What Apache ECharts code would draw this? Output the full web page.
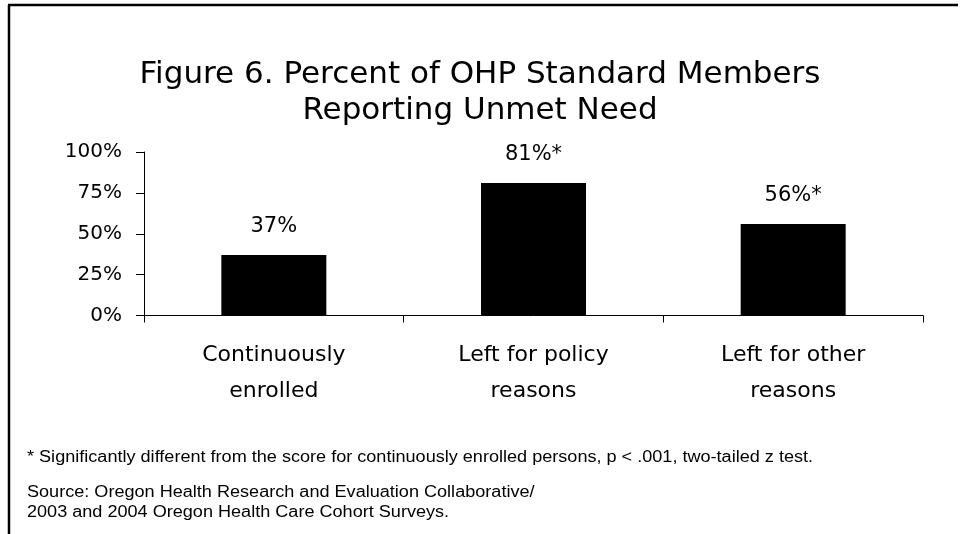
<!DOCTYPE html>
<html>
<head>
<meta charset="utf-8">
<script src="https://cdn.jsdelivr.net/npm/echarts@6/dist/echarts.min.js"></script>
<style>
html,body{margin:0;padding:0;background:#fff;}
#chart{width:960px;height:534px;}
</style>
</head>
<body>
<div id="chart"></div>
<script>
var categories = ['Continuously\nenrolled', 'Left for policy\nreasons', 'Left for other\nreasons'];
var values = [37, 81, 56];
var significance = ['', '*', '*'];
var yTicks = [0, 25, 50, 75, 100];
var titleLines = ['Figure 6. Percent of OHP Standard Members', 'Reporting Unmet Need'];
var footnote = '* Significantly different from the score for continuously enrolled persons, p < .001, two-tailed z test.';
var sourceLines = ['Source: Oregon Health Research and Evaluation Collaborative/', '2003 and 2004 Oregon Health Care Cohort Surveys.'];

var mainFont = 'DejaVu Sans';
var noteFont = '16px "Liberation Sans", Arial, sans-serif';
var chart = echarts.init(document.getElementById('chart'));
chart.setOption({
  backgroundColor: '#ffffff',
  animation: false,
  title: {
    text: titleLines.join('\n'),
    left: 'center',
    top: 52,
    textStyle: {fontFamily: mainFont, fontSize: 31, fontWeight: 'normal', color: '#000', lineHeight: 36}
  },
  grid: {left: 144, right: 37, top: 152, bottom: 218.5, containLabel: false},
  xAxis: {
    type: 'category',
    data: categories,
    boundaryGap: true,
    axisLine: {lineStyle: {color: '#000', width: 1}},
    axisTick: {show: true, length: 7, lineStyle: {color: '#000'}},
    axisLabel: {fontFamily: mainFont, fontSize: 22, color: '#000', lineHeight: 36, margin: 22, interval: 0}
  },
  yAxis: {
    type: 'value',
    min: yTicks[0],
    max: yTicks[yTicks.length - 1],
    interval: 25,
    axisLine: {show: true, lineStyle: {color: '#000', width: 1}},
    axisTick: {show: true, length: 8, lineStyle: {color: '#000'}},
    splitLine: {show: false},
    axisLabel: {fontFamily: mainFont, fontSize: 20, color: '#000', margin: 22, formatter: '{value}%'}
  },
  series: [{
    type: 'bar',
    data: values,
    barWidth: 105,
    itemStyle: {color: '#000'},
    label: {
      show: true,
      position: 'top',
      distance: 18,
      fontFamily: mainFont,
      fontSize: 21,
      color: '#000',
      formatter: function (p) { return p.value + '%' + significance[p.dataIndex]; }
    }
  }],
  graphic: [
    {type: 'line', shape: {x1: 9, y1: 5, x2: 9, y2: 534}, style: {stroke: '#000', lineWidth: 2.5}},
    {type: 'line', shape: {x1: 8, y1: 5, x2: 958, y2: 5}, style: {stroke: '#000', lineWidth: 2.5}},
    {type: 'text', x: 27, y: 450, scaleX: 1.13, style: {text: footnote, font: noteFont, fill: '#000'}},
    {type: 'text', x: 27, y: 483, scaleX: 1.13, style: {text: sourceLines.join('\n'), font: noteFont, fill: '#000', lineHeight: 20}}
  ]
});
</script>
</body>
</html>
